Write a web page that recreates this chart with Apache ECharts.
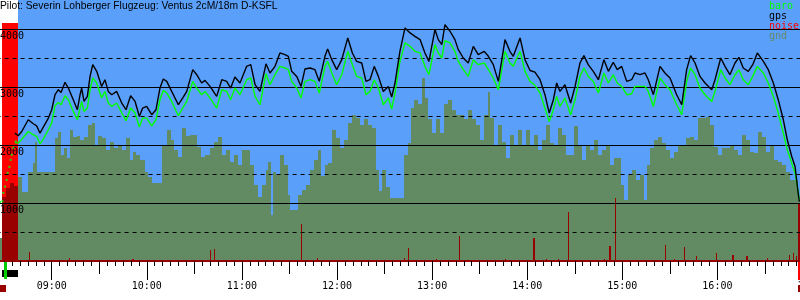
<!DOCTYPE html>
<html><head><meta charset="utf-8">
<script src="https://cdn.jsdelivr.net/npm/echarts@6.0.0/dist/echarts.min.js"></script>
<style>html,body{margin:0;padding:0;background:#fff}#c{width:800px;height:300px}</style>
</head><body><div id="c"></div>
<script>
// ---- data (times are minutes since midnight, altitudes in metres) ----
const titleText = 'Pilot: Severin Lohberger Flugzeug: Ventus 2cM/18m D-KSFL';
const legendNames = ['baro', 'gps', 'noise', 'gnd'];
const yTickLabels = [1000, 2000, 3000, 4000];

const flightTime = [516.8,518.9,521.1,525.2,528.4,530.5,532.6,534.7,537.9,540.0,
542.1,544.2,545.9,548.4,550.5,553.6,556.2,557.9,558.9,560.4,
562.5,564.2,565.9,568.4,571.5,573.6,575.7,577.9,581.0,584.2,
586.9,589.8,592.6,595.3,597.4,599.9,603.1,605.8,608.3,610.4,
612.6,615.7,619.9,622.6,625.2,629.0,631.5,634.6,636.7,639.9,
644.1,647.3,650.4,652.9,655.6,658.8,663.0,665.6,668.3,671.4,
675.2,677.7,680.9,684.0,687.2,689.3,691.4,694.6,697.3,699.8,
703.0,706.1,708.8,712.4,714.1,716.7,719.8,723.0,726.8,729.7,
732.4,735.6,738.3,740.8,743.5,746.1,749.2,752.4,754.5,756.6,
759.7,762.9,766.1,769.2,772.4,775.5,778.0,781.8,783.9,786.1,
788.1,791.3,794.4,796.5,799.7,802.8,806.0,809.1,812.9,815.5,
818.6,821.8,826.0,829.1,831.2,835.5,838.6,841.8,844.9,848.1,
851.2,853.9,856.5,858.6,860.7,863.8,867.4,870.2,873.3,875.8,
878.5,881.7,884.9,888.4,891.2,894.3,896.8,899.6,902.8,905.9,
908.0,911.2,914.3,916.4,919.6,923.8,926.9,930.1,934.3,937.5,
940.6,943.1,945.9,949.0,952.2,956.4,958.5,962.1,964.8,967.9,
971.1,973.6,976.3,979.5,982.3,985.2,989.0,992.1,995.3,998.4,
1001.6,1004.1,1006.9,1009.0,1010.7,1011.7];

const gpsAlt = [2205,2159,2233,2435,2366,2331,2205,2309,2464,2608,
2867,2953,2907,3080,2982,2781,2608,2867,2982,2751,
2838,3183,3385,3270,3010,3126,2924,2867,2924,2724,
2608,2850,2751,2492,2637,2665,2522,2608,2982,3138,
3097,2924,2694,2810,2924,3299,3212,3069,3114,3010,
2838,3126,3097,2982,3173,3069,3356,3385,3040,2924,
3400,3242,3356,3587,3558,3529,3270,3183,3010,3311,
3327,3299,3097,3529,3656,3471,3299,3471,3846,3587,
3442,3414,3097,3126,3356,3183,2924,3010,2827,3069,
3615,4019,3932,3874,3817,3587,3442,3990,3817,3731,
4076,3961,3817,3644,3500,3414,3701,3558,3615,3529,
3385,3097,3817,3615,3529,3846,3471,3285,3256,3126,
2867,2551,2781,3069,2924,3040,2724,3010,3414,3541,
3385,3270,3126,3471,3270,3426,3299,3356,3097,3126,
3242,3212,3242,3126,2867,3356,3242,3155,2867,2694,
3299,3541,3414,3183,3069,2953,3126,3500,3356,3212,
3414,3511,3327,3270,3385,3587,3442,3299,3069,2781,
2435,2090,1801,1629,1226,1024];

const baroAlt = [2040,2033,2100,2233,2176,2147,2021,2102,2263,2378,
2677,2734,2694,2850,2781,2579,2435,2637,2751,2579,
2637,2953,3155,3069,2810,2924,2724,2665,2724,2551,
2418,2637,2551,2309,2464,2464,2331,2435,2781,2941,
2896,2751,2504,2637,2751,3097,2982,2867,2924,2810,
2637,2953,2924,2781,2982,2867,3126,3155,2838,2694,
3230,3040,3212,3356,3327,3299,3097,2982,2810,3097,
3126,3097,2896,3356,3442,3242,3040,3212,3615,3385,
3183,3155,2867,2924,3126,2982,2694,2810,2620,2896,
3442,3760,3701,3615,3587,3356,3212,3731,3587,3500,
3800,3760,3615,3442,3299,3183,3471,3385,3414,3299,
3155,2953,3615,3414,3356,3615,3270,3097,3030,2896,
2637,2406,2608,2838,2665,2810,2522,2781,3183,3327,
3183,3097,2896,3242,3069,3212,3069,3010,2867,2884,
3010,3010,3010,2924,2665,3155,3040,2953,2694,2522,
3097,3327,3212,2982,2867,2751,2924,3299,3155,3040,
3212,3299,3126,3040,3183,3356,3242,3069,2838,2551,
2205,1917,1687,1515,1240,1054];

// engine climb, logged sparsely (baro only)
const climbTime = [507.4,508.9,509.5,510.5,511.6,512.2,513.3,514.1,514.8,515.8,517.3];
const climbBaro = [1019,1030,1174,1283,1399,1520,1623,1744,1831,1952,2061];

// ground elevation under the track: step start time and height
const gndTime = [507.4,508.6,511.2,513.7,516.2,518.7,521.3,525.1,528.2,529.5,
530.7,542.1,544.0,545.9,547.8,549.7,551.5,553.4,556.0,557.9,
560.4,562.9,565.4,567.3,569.2,571.7,574.3,576.8,579.3,581.8,
584.4,586.9,589.4,591.3,593.2,595.7,598.9,600.8,603.3,609.6,
612.7,615.3,617.2,619.7,622.2,624.7,627.3,631.7,634.2,636.7,
639.9,642.4,644.9,647.4,650.0,652.5,655.0,657.5,660.1,665.1,
667.6,670.2,672.7,675.2,676.5,678.4,679.6,681.5,684.0,686.6,
689.1,690.3,695.4,697.9,700.4,703.0,705.5,708.0,709.9,712.4,
714.3,716.8,719.4,721.9,724.4,726.9,729.5,732.0,734.5,737.0,
739.6,742.1,744.6,746.5,748.4,750.9,753.4,762.3,764.8,766.7,
768.6,771.1,773.6,775.5,777.4,779.9,782.5,785.0,787.5,790.0,
792.6,795.1,800.1,802.6,805.2,807.7,810.2,812.7,815.3,816.5,
819.0,821.6,824.1,826.6,829.1,831.7,834.2,836.7,839.2,841.8,
844.3,846.8,849.3,851.9,854.4,856.9,859.4,861.9,864.5,869.5,
872.0,874.6,877.1,879.6,882.1,884.7,887.2,889.7,892.2,894.8,
899.2,901.1,903.6,906.1,908.6,911.2,913.7,915.6,917.5,920.0,
922.5,925.0,927.6,930.1,932.6,935.1,940.2,942.7,945.2,947.8,
952.8,955.3,957.8,960.4,962.9,967.9,970.5,973.0,975.5,978.0,
980.6,983.1,985.6,988.1,990.7,993.2,995.7,998.2,1000.7,1003.3,
1005.8,1010.8];
const gndAlt = [400,1110,1260,1350,1300,1450,1190,1540,1690,2060,
1540,2120,2230,1830,1950,1780,2260,2140,2160,2090,
2140,2350,2380,2000,2160,2120,1920,2060,1950,2000,
1920,2120,1740,1880,1830,1740,1540,1450,1350,2000,
2260,2090,1920,1800,2300,2160,2180,1970,1800,1830,
1950,2060,2140,1830,1920,1710,1830,1660,1920,1660,
1310,1110,1310,1570,1710,800,1540,1490,1830,1660,
1140,880,1140,1230,1310,1570,1740,1920,1470,1660,
1690,2260,2120,1950,2090,2380,2520,2470,2350,2440,
2350,2300,1570,1210,1570,1280,1090,1830,2040,2640,
2780,2710,3160,2810,2440,2210,2440,2210,2710,2780,
2610,2520,2440,2610,2440,2350,2090,2520,2920,2470,
2000,2350,2060,1780,2180,2000,2260,2000,2260,2000,
2180,1920,2090,2350,2040,2000,2300,2180,1830,2320,
2000,1740,2000,1920,2090,1830,1920,2000,1660,1780,
1310,1050,1490,1570,1400,1490,1050,1660,1950,2090,
2140,2040,1920,1780,1880,2000,2120,2140,2090,2470,
2490,2350,1970,1830,1950,2000,1920,1830,2180,2090,
1880,1860,2230,2140,1880,2000,1740,1710,1660,1540,
1400,1060];

// engine / noise level (scaled to altitude axis)
const noiseStart = [508.6,525.9,550.9,590.5,639.9,642.6,697.1,707.2,762.5,764.6,
782.5,797.2,826.0,843.8,851.7,859.4,865.9,888.4,891.8,895.6,
927.0,932.8,939.1,946.3,958.9,969.0,978.0,991.5,1005.2,1007.9,
1009.4,1010.6,1011.0];
const noiseEnd = [518.7,526.5,551.5,591.7,640.5,643.2,697.7,707.8,763.1,765.2,
783.1,797.8,826.6,844.4,852.3,860.0,866.5,889.0,892.4,896.2,
927.6,933.4,939.7,946.9,959.5,970.2,979.2,992.1,1005.8,1008.5,
1010.0,1011.0,1020];
const noiseVal = [4110,160,52,35,190,207,640,57,60,230,
40,432,30,392,30,30,840,30,260,1083,
276,30,236,86,132,104,86,57,104,132,
90,480,1000];

// time of valid gps track (blue background) and event markers under the axis
const trackStart = 518.7;
const markStart = [507.4, 508.6, 510.2, 1010.8, 1011.1];
const markEnd   = [511.2, 518.7, 511.5, 1012.5, 1012.5];
const markKind  = ['log', 'engine', 'takeoff', 'landing', 'log'];

// ---- chart ----
const AX_MIN = 480, AX_MAX = 1020, Y_MAX = 4500;
const MONO = 'DejaVu Sans Mono';
const C = {bg:'#5a9ffa', gnd:'#638b63', red:'#ff0000', dark:'#990000', baro:'#00ff00', gps:'#000000'};

const gndData = gndTime.map((t, i) => [t, i + 1 < gndTime.length ? gndTime[i + 1] : AX_MAX, gndAlt[i]]);
const noiseData = noiseStart.map((t, i) => [t, noiseEnd[i], noiseVal[i]]);
const overlapData = [];
noiseData.forEach(n => gndData.forEach(g => {
  const a = Math.max(n[0], g[0]), b = Math.min(n[1], g[1]);
  if (b > a) overlapData.push([a, b, Math.min(n[2], g[2])]);
}));
const markData = markStart.map((t, i) => [t, markEnd[i], markKind[i]]);

function rectRender(color) {
  return function (params, api) {
    const a = api.coord([api.value(0), api.value(2)]);
    const b = api.coord([api.value(1), 0]);
    const x0 = Math.round(a[0]), x1 = Math.round(b[0]);
    const y0 = Math.round(a[1]);
    return {type: 'rect', shape: {x: x0, y: y0, width: Math.max(1, x1 - x0), height: b[1] - y0},
            style: {fill: color}};
  };
}
const markStyle = {
  log: {dy0: 24, dy1: 31, color: C.dark},
  engine: {dy0: 9, dy1: 16, color: '#000000'},
  takeoff: {dy0: 1, dy1: 18, color: '#00cc00'},
  landing: {dy0: 1, dy1: 19, color: C.red}
};
function markRender(params, api) {
  const a = api.coord([api.value(0), 0]);
  const b = api.coord([api.value(1), 0]);
  const s = markStyle[markKind[params.dataIndex]];
  const x0 = Math.round(a[0]), x1 = Math.round(b[0]);
  return {type: 'rect', shape: {x: x0, y: a[1] + s.dy0, width: Math.max(1, x1 - x0), height: s.dy1 - s.dy0},
          style: {fill: s.color}};
}
const hhmm = v => String(Math.floor(v / 60)).padStart(2, '0') + ':' + String(v % 60).padStart(2, '0');

function xAx(interval, tickLen, extra) {
  return Object.assign({
    type: 'value', position: 'bottom', offset: 0, min: AX_MIN, max: AX_MAX, interval: interval,
    axisLine: {show: false, onZero: false},
    axisTick: {show: true, length: tickLen, lineStyle: {color: '#000', width: 1}},
    axisLabel: {show: false}, splitLine: {show: false}
  }, extra || {});
}

const chart = echarts.init(document.getElementById('c'), null, {renderer: 'canvas'});
chart.setOption({
  animation: false,
  title: {text: titleText, left: 0, top: 1, padding: 0,
    textStyle: {fontFamily: 'Liberation Sans', fontSize: 10.3, fontWeight: 'normal', color: '#000'}},
  legend: {left: 764, top: 1, orient: 'vertical', itemGap: 0, itemWidth: 0, itemHeight: 10,
    icon: 'none', selectedMode: false, padding: 0,
    textStyle: {fontFamily: MONO, fontSize: 10, lineHeight: 10},
    data: [
      {name: legendNames[0], textStyle: {color: C.baro}},
      {name: legendNames[1], textStyle: {color: C.gps}},
      {name: legendNames[2], textStyle: {color: C.red}},
      {name: legendNames[3], textStyle: {color: '#668866'}}
    ]},
  grid: {left: -43.4, top: 0, width: 855.9, height: 261, containLabel: false, outerBoundsMode: 'none'},
  xAxis: [
    xAx(5, 5, {axisLine: {show: true, onZero: false, lineStyle: {color: C.dark, width: 2}}}),
    xAx(30, 13),
    xAx(60, 19, {axisLabel: {show: true, margin: 20.5, formatter: hhmm, color: '#000',
      fontFamily: MONO, fontSize: 10}})
  ],
  yAxis: [
    {type: 'value', position: 'left', offset: -43.4, min: 0, max: Y_MAX, interval: 500,
      axisLine: {show: false}, axisTick: {show: false},
      axisLabel: {inside: true, margin: 0, verticalAlign: 'top', padding: [2, 0, 0, 0],
        color: '#000', fontFamily: MONO, fontSize: 10,
        formatter: v => yTickLabels.indexOf(v) >= 0 ? String(v) : ''},
      splitLine: {show: true, showMinLine: false, showMaxLine: false,
        lineStyle: {color: '#000', width: 1, type: [4, 4]}}},
    {type: 'value', position: 'left', offset: -43.4, min: 0, max: Y_MAX, interval: 1000,
      axisLine: {show: false}, axisTick: {show: false}, axisLabel: {show: false},
      splitLine: {show: true, showMinLine: false, showMaxLine: false,
        lineStyle: {color: '#000', width: 1}}}
  ],
  series: [
    {type: 'custom', name: 'bg', silent: true, z: -4, renderItem: rectRender(C.bg),
      dimensions: ['t0', 't1', 'v'], encode: {x: [0, 1], y: 2},
      data: [[trackStart, AX_MAX, Y_MAX]]},
    {type: 'custom', name: 'noise', silent: true, z: -3, renderItem: rectRender(C.red),
      dimensions: ['t0', 't1', 'v'], encode: {x: [0, 1], y: 2}, itemStyle: {color: C.red}, data: noiseData},
    {type: 'custom', name: 'gnd', silent: true, z: -2, renderItem: rectRender(C.gnd),
      dimensions: ['t0', 't1', 'v'], encode: {x: [0, 1], y: 2}, itemStyle: {color: C.gnd}, data: gndData},
    {type: 'custom', name: 'noise', silent: true, z: -1, renderItem: rectRender(C.dark),
      dimensions: ['t0', 't1', 'v'], encode: {x: [0, 1], y: 2}, data: overlapData},
    {type: 'line', name: 'baro', z: 3, showSymbol: false, silent: true,
      lineStyle: {color: C.baro, width: 1.4}, itemStyle: {color: C.baro},
      data: flightTime.map((t, i) => [t, baroAlt[i]])},
    {type: 'scatter', name: 'baro', z: 3, silent: true, symbol: 'rect', symbolSize: 2,
      itemStyle: {color: C.baro}, data: climbTime.map((t, i) => [t, climbBaro[i]])},
    {type: 'line', name: 'gps', z: 4, showSymbol: false, silent: true,
      lineStyle: {color: C.gps, width: 1.4}, itemStyle: {color: C.gps},
      data: flightTime.map((t, i) => [t, gpsAlt[i]])},
    {type: 'custom', name: 'marks', silent: true, z: 5, clip: false, renderItem: markRender,
      dimensions: ['t0', 't1', 'k'], encode: {x: [0, 1]}, data: markData}
  ]
});
</script></body></html>
